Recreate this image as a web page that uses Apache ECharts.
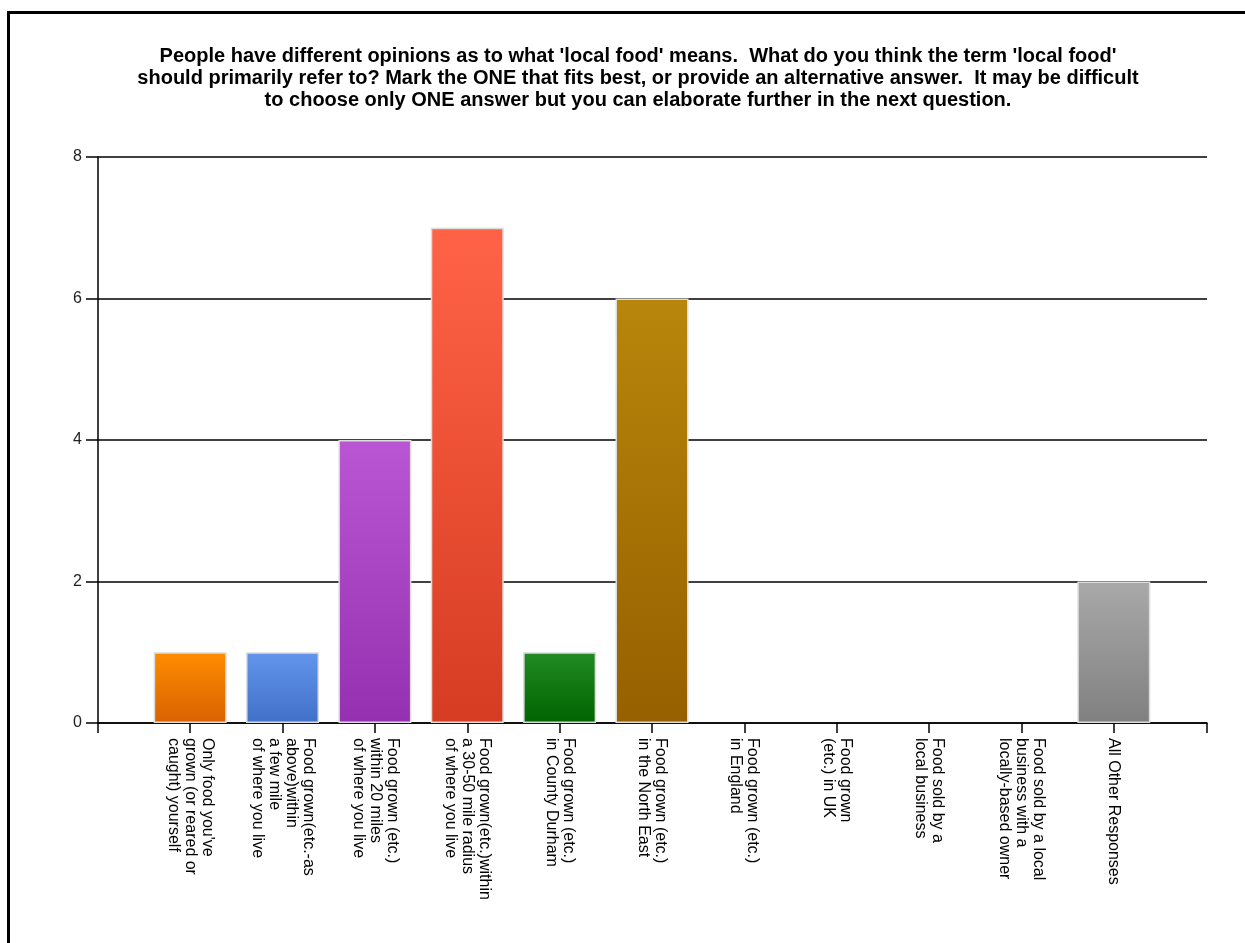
<!DOCTYPE html>
<html>
<head>
<meta charset="utf-8">
<script src="https://cdn.jsdelivr.net/npm/echarts@6/dist/echarts.min.js"></script>
<style>
  html, body { margin: 0; padding: 0; background: #fff; }
  #chart { width: 1245px; height: 943px; }
</style>
</head>
<body>
<div id="chart"></div>
<script>
// survey answers (x axis)
var categories = [
    "Only food you've\ngrown (or reared or\ncaught) yourself",
    "Food grown(etc.-as\nabove)within\na few mile\nof where you live",
    "Food grown (etc.)\nwithin 20 miles\nof where you live",
    "Food grown(etc.)within\na 30-50 mile radius\nof where you live",
    "Food grown (etc.)\nin County Durham",
    "Food grown (etc.)\nin the North East",
    "Food grown (etc.)\nin England",
    "Food grown\n(etc.) in UK",
    "Food sold by a\nlocal business",
    "Food sold by a local\nbusiness with a\nlocally-based owner",
    "All Other Responses"
];
// number of responses
var counts = [1, 1, 4, 7, 1, 6, 0, 0, 0, 0, 2];
// top / bottom gradient colour per bar
var topColors = ['#ff8c00', '#6495ed', '#ba55d3', '#ff6347', '#228b22', '#b8860b', '#999', '#999', '#999', '#999', '#a9a9a9'];
var bottomColors = ['#d96200', '#4070c8', '#9530b0', '#d63c22', '#006400', '#966000', '#777', '#777', '#777', '#777', '#808080'];
var yTicks = { min: 0, max: 8, interval: 2 };

var titleText = "People have different opinions as to what 'local food' means.  What do you think the term 'local food'\n" +
    "should primarily refer to? Mark the ONE that fits best, or provide an alternative answer.  It may be difficult\n" +
    "to choose only ONE answer but you can elaborate further in the next question.";

var barData = counts.map(function (v, i) {
    return {
        value: v,
        itemStyle: {
            color: new echarts.graphic.LinearGradient(0, 0, 0, 1, [
                {offset: 0, color: topColors[i]},
                {offset: 1, color: bottomColors[i]}
            ]),
            // empty bars: no border sitting on the axis
            borderWidth: v > 0 ? 1.5 : 0
        }
    };
});

var myChart = echarts.init(document.getElementById('chart'));
myChart.setOption({
    animation: false,
    backgroundColor: '#fff',
    title: {
        text: titleText,
        left: 633,
        textAlign: 'center',
        top: 40,
        textStyle: {
            fontFamily: 'Liberation Sans, Arial',
            fontSize: 20,
            fontWeight: 'bold',
            color: '#000',
            lineHeight: 22
        }
    },
    graphic: [{
        type: 'rect',
        shape: {x: 8.5, y: 12.5, width: 1400, height: 1100},
        style: {fill: 'none', stroke: '#000', lineWidth: 3},
        silent: true
    }],
    grid: [
        // frame grid: y axis, gridlines, full-width x axis line
        {left: 98, right: 38, top: 157, bottom: 220},
        // bars grid
        {left: 144, right: 85, top: 157, bottom: 220}
    ],
    xAxis: [
        {
            type: 'value', gridIndex: 0, min: 0, max: 1, interval: 1,
            axisLine: {show: true, lineStyle: {color: '#000', width: 1.5}},
            axisTick: {show: true, length: 10, lineStyle: {color: '#000', width: 1.5}},
            axisLabel: {show: false},
            splitLine: {show: false}
        },
        {
            type: 'category', gridIndex: 1, data: categories,
            axisLine: {show: false},
            axisTick: {show: true, alignWithLabel: true, length: 10, lineStyle: {color: '#000', width: 1.5}},
            axisLabel: {
                interval: 0,
                rotate: -90,
                margin: 15,
                fontFamily: 'Liberation Sans, Arial',
                fontSize: 16,
                lineHeight: 17,
                color: '#000'
            }
        }
    ],
    yAxis: [
        {
            type: 'value', gridIndex: 0,
            min: yTicks.min, max: yTicks.max, interval: yTicks.interval,
            axisLine: {show: true, lineStyle: {color: '#000', width: 1.5}},
            axisTick: {show: true, length: 12, lineStyle: {color: '#000', width: 1.5}},
            axisLabel: {
                margin: 16,
                fontFamily: 'Liberation Sans, Arial',
                fontSize: 16,
                color: '#222'
            },
            splitLine: {show: true, lineStyle: {color: '#000', width: 1.5}}
        },
        {
            type: 'value', gridIndex: 1,
            min: yTicks.min, max: yTicks.max, interval: yTicks.interval,
            show: false
        }
    ],
    series: [{
        type: 'bar',
        xAxisIndex: 1,
        yAxisIndex: 1,
        barWidth: 73,
        data: barData,
        itemStyle: {
            borderColor: '#dcdcdc'
        }
    }]
});
</script>
</body>
</html>
